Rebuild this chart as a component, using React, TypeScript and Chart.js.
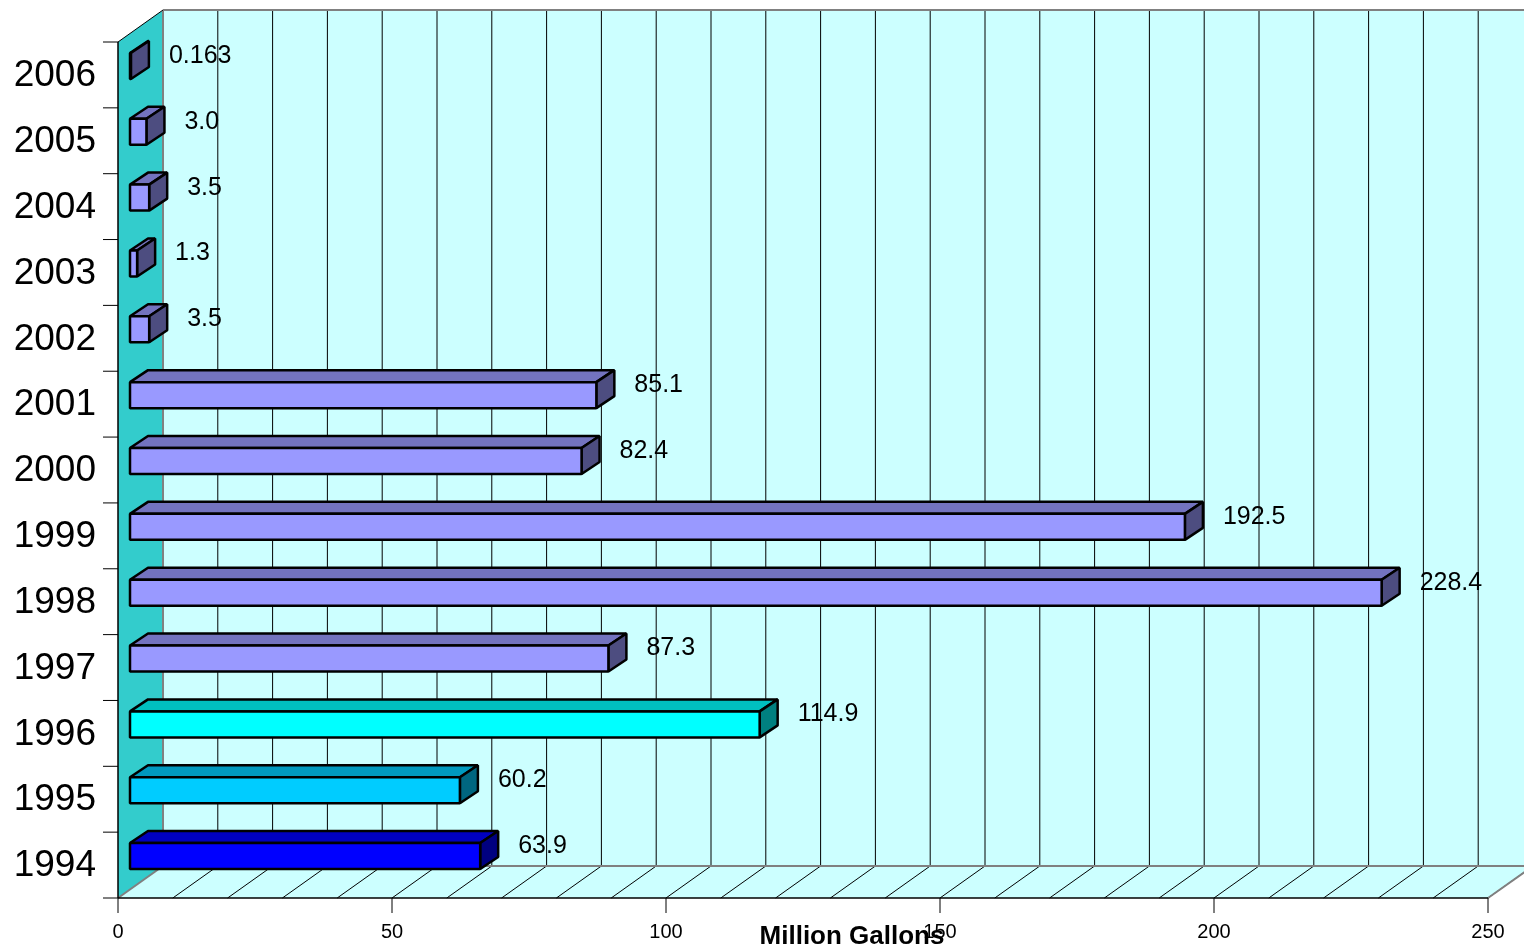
import React, { useEffect, useRef } from "react";
import { Chart, registerables } from "chart.js";

Chart.register(...registerables);

// ---- data ----
const years = ["1994", "1995", "1996", "1997", "1998", "1999", "2000", "2001", "2002", "2003", "2004", "2005", "2006"];
const gallons = [63.9, 60.2, 114.9, 87.3, 228.4, 192.5, 82.4, 85.1, 3.5, 1.3, 3.5, 3.0, 0.163];
const xTickValues = [0, 50, 100, 150, 200, 250];
const axisTitle = "Million Gallons";

// ---- styles ----
const PURPLE = { front: "#9999FF", top: "#7373BF", side: "#4D4D80" };
const BLUE = { front: "#0000FF", top: "#0000BF", side: "#000080" };
const SKY = { front: "#00CCFF", top: "#0099BF", side: "#006680" };
const CYAN = { front: "#00FFFF", top: "#00BFBF", side: "#008080" };
const barPalette = [BLUE, SKY, CYAN, PURPLE, PURPLE, PURPLE, PURPLE, PURPLE, PURPLE, PURPLE, PURPLE, PURPLE, PURPLE];

const FONT = "'Liberation Sans', Arial, sans-serif";
const WALL_DX = 45;
const WALL_DY = -32;
const BAR_SHIFT_X = 12;
const BAR_SHIFT_Y = -9;
const BAR_DX = 18;
const BAR_DY = -12;
const BAR_H = 26;

function fmt(v: number) {
  return v < 1 ? v.toFixed(3) : v.toFixed(1);
}

function line(ctx: CanvasRenderingContext2D, x1: number, y1: number, x2: number, y2: number) {
  ctx.beginPath();
  ctx.moveTo(x1, y1);
  ctx.lineTo(x2, y2);
  ctx.stroke();
}

function poly(ctx: CanvasRenderingContext2D, pts: number[][], fill?: string, stroke?: string, lw = 1) {
  ctx.beginPath();
  ctx.moveTo(pts[0][0], pts[0][1]);
  for (let i = 1; i < pts.length; i++) ctx.lineTo(pts[i][0], pts[i][1]);
  ctx.closePath();
  if (fill) {
    ctx.fillStyle = fill;
    ctx.fill();
  }
  if (stroke) {
    ctx.strokeStyle = stroke;
    ctx.lineWidth = lw;
    ctx.stroke();
  }
}

const threeD = {
  id: "threeD",
  beforeDatasetsDraw(chart: any) {
    const ctx: CanvasRenderingContext2D = chart.ctx;
    const { left: L, right: R, top: T, bottom: B } = chart.chartArea;
    const xs = chart.scales.x;
    ctx.save();
    // back wall
    poly(ctx, [[L + WALL_DX, T + WALL_DY], [R + WALL_DX, T + WALL_DY], [R + WALL_DX, B + WALL_DY], [L + WALL_DX, B + WALL_DY]], "#CCFFFF");
    // floor
    poly(ctx, [[L, B], [R, B], [R + WALL_DX, B + WALL_DY], [L + WALL_DX, B + WALL_DY]], "#CCFFFF");
    // side wall
    poly(ctx, [[L, T], [L + WALL_DX, T + WALL_DY], [L + WALL_DX, B + WALL_DY], [L, B]], "#33CCCC");
    // grid lines
    ctx.strokeStyle = "#000000";
    ctx.lineWidth = 1;
    for (let v = 10; v <= 250; v += 10) {
      const x = xs.getPixelForValue(v);
      line(ctx, x + WALL_DX, T + WALL_DY, x + WALL_DX, B + WALL_DY);
      line(ctx, x, B, x + WALL_DX, B + WALL_DY);
    }
    // gray edges
    ctx.strokeStyle = "#808080";
    ctx.lineWidth = 2;
    line(ctx, L + WALL_DX, T + WALL_DY, R + WALL_DX, T + WALL_DY);
    line(ctx, L + WALL_DX, T + WALL_DY, L + WALL_DX, B + WALL_DY);
    line(ctx, L + WALL_DX, B + WALL_DY, R + WALL_DX, B + WALL_DY);
    line(ctx, R, B, R + WALL_DX, B + WALL_DY);
    line(ctx, L, B, L + WALL_DX, B + WALL_DY);
    // black edges / axes
    ctx.strokeStyle = "#000000";
    ctx.lineWidth = 1;
    line(ctx, L, T, L + WALL_DX, T + WALL_DY);
    ctx.lineWidth = 1.5;
    line(ctx, L, T, L, B);
    line(ctx, L, B, R, B);
    ctx.restore();
  },
  afterDatasetsDraw(chart: any) {
    const ctx: CanvasRenderingContext2D = chart.ctx;
    const { left: L, right: R, top: T, bottom: B } = chart.chartArea;
    const xs = chart.scales.x;
    const ys = chart.scales.y;
    const band = Math.abs(ys.getPixelForValue(1) - ys.getPixelForValue(0));
    ctx.save();
    ctx.lineJoin = "bevel";
    // bars
    gallons.forEach((v, i) => {
      const c = ys.getPixelForValue(i);
      const x0 = xs.getPixelForValue(0) + BAR_SHIFT_X;
      const x1 = xs.getPixelForValue(v) + BAR_SHIFT_X;
      const yT = c + BAR_SHIFT_Y - BAR_H / 2;
      const yB = yT + BAR_H;
      const pal = barPalette[i];
      poly(ctx, [[x0, yT], [x0 + BAR_DX, yT + BAR_DY], [x1 + BAR_DX, yT + BAR_DY], [x1, yT]], pal.top, "#000", 2.5);
      poly(ctx, [[x1, yT], [x1 + BAR_DX, yT + BAR_DY], [x1 + BAR_DX, yB + BAR_DY], [x1, yB]], pal.side, "#000", 2.5);
      poly(ctx, [[x0, yT], [x1, yT], [x1, yB], [x0, yB]], pal.front, "#000", 2.5);
      // value label
      ctx.fillStyle = "#000";
      ctx.font = `25px ${FONT}`;
      ctx.textAlign = "left";
      ctx.textBaseline = "middle";
      ctx.fillText(fmt(v), x1 + BAR_DX + 20, c + BAR_SHIFT_Y - 10);
    });
    // category ticks and labels
    ctx.strokeStyle = "#000";
    ctx.lineWidth = 1;
    for (let i = 0; i < years.length; i++) {
      const c = ys.getPixelForValue(i);
      line(ctx, L - 15, c - band / 2, L, c - band / 2);
      if (i === 0) line(ctx, L - 15, c + band / 2, L, c + band / 2);
      ctx.fillStyle = "#000";
      ctx.font = `37px ${FONT}`;
      ctx.textAlign = "right";
      ctx.textBaseline = "middle";
      ctx.fillText(years[i], L - 22, c + 1);
    }
    // x ticks and labels
    xTickValues.forEach((v) => {
      const x = xs.getPixelForValue(v);
      line(ctx, x, B, x, B + 15);
      ctx.fillStyle = "#000";
      ctx.font = `20px ${FONT}`;
      ctx.textAlign = "center";
      ctx.textBaseline = "middle";
      ctx.fillText(String(v), x, B + 34);
    });
    // axis title
    ctx.font = `bold 26px ${FONT}`;
    ctx.textAlign = "center";
    ctx.textBaseline = "middle";
    ctx.fillText(axisTitle, (L + R) / 2 + 49, B + 39);
    ctx.restore();
  },
};

export default function App() {
  const ref = useRef<HTMLCanvasElement | null>(null);
  useEffect(() => {
    if (!ref.current) return;
    const chart = new Chart(ref.current, {
      type: "bar",
      data: {
        labels: years,
        datasets: [
          {
            data: gallons,
            backgroundColor: "rgba(0,0,0,0)",
            borderWidth: 0,
          },
        ],
      },
      options: {
        indexAxis: "y",
        animation: false,
        responsive: false,
        layout: { padding: { left: 118, right: 36, top: 42, bottom: 53 } },
        plugins: { legend: { display: false }, tooltip: { enabled: false } },
        scales: {
          x: { type: "linear", min: 0, max: 250, display: false },
          y: { type: "category", reverse: true, offset: true, display: false },
        },
      },
      plugins: [threeD],
    } as any);
    return () => chart.destroy();
  }, []);
  return (
    <div style={{ position: "absolute", left: 0, top: 0, width: 1524, height: 951, overflow: "hidden" }}>
      <canvas ref={ref} width={1524} height={951} style={{ width: 1524, height: 951, display: "block" }} />
    </div>
  );
}
